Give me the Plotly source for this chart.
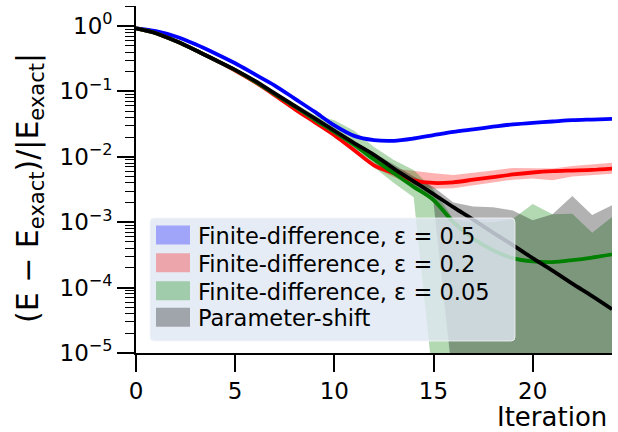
import numpy as np
import plotly.graph_objects as go

# ---------------- data (log10 of relative error) ----------------
iterations = list(range(25))

blue_line_log10 = [-0.035, -0.077, -0.16, -0.28, -0.42, -0.57, -0.74, -0.91, -1.11, -1.31,
                   -1.52, -1.68, -1.745, -1.755, -1.72, -1.67, -1.62, -1.58, -1.54, -1.505,
                   -1.48, -1.46, -1.44, -1.43, -1.42]
blue_upper_log10 = [-0.025, -0.067, -0.15, -0.27, -0.41, -0.56, -0.73, -0.90, -1.10, -1.30,
                    -1.51, -1.67, -1.735, -1.74, -1.705, -1.655, -1.605, -1.565, -1.525, -1.49,
                    -1.465, -1.445, -1.425, -1.415, -1.405]
blue_lower_log10 = [-0.045, -0.087, -0.17, -0.29, -0.43, -0.58, -0.75, -0.92, -1.12, -1.32,
                    -1.53, -1.69, -1.755, -1.77, -1.735, -1.685, -1.635, -1.595, -1.555, -1.52,
                    -1.495, -1.475, -1.455, -1.445, -1.435]

red_line_log10 = [-0.035, -0.11, -0.23, -0.37, -0.52, -0.68, -0.86, -1.06, -1.27, -1.47,
                  -1.67, -1.90, -2.13, -2.25, -2.36, -2.40, -2.39, -2.35, -2.31, -2.27,
                  -2.24, -2.22, -2.21, -2.20, -2.18]
red_upper_log10 = [-0.02, -0.095, -0.215, -0.355, -0.505, -0.665, -0.845, -1.045, -1.255, -1.455,
                   -1.65, -1.87, -2.09, -2.18, -2.22, -2.25, -2.28, -2.25, -2.21, -2.17,
                   -2.18, -2.18, -2.14, -2.11, -2.09]
red_lower_log10 = [-0.05, -0.125, -0.245, -0.385, -0.535, -0.695, -0.875, -1.075, -1.285, -1.485,
                   -1.69, -1.93, -2.17, -2.31, -2.43, -2.49, -2.48, -2.44, -2.39, -2.35,
                   -2.33, -2.36, -2.30, -2.28, -2.26]

green_line_log10 = [-0.035, -0.11, -0.23, -0.37, -0.52, -0.675, -0.85, -1.04, -1.23, -1.43,
                    -1.62, -1.82, -2.04, -2.25, -2.46, -2.66, -3.00, -3.25, -3.43, -3.55,
                    -3.60, -3.61, -3.58, -3.54, -3.49]
green_upper_log10 = [-0.02, -0.095, -0.215, -0.355, -0.505, -0.66, -0.83, -1.01, -1.18, -1.36,
                     -1.44, -1.60, -1.85, -2.05, -2.20, -2.50, -2.95, -3.00, -3.00, -2.95,
                     -2.72, -2.88, -2.87, -3.16, -2.92]
green_lower_log10 = [-0.05, -0.125, -0.245, -0.385, -0.535, -0.69, -0.87, -1.06, -1.26, -1.48,
                     -1.70, -1.92, -2.16, -2.40, -2.62, -5.5, -9.0, -9.0, -9.0, -9.0,
                     -9.0, -9.0, -9.0, -9.0, -9.0]

black_line_log10 = [-0.035, -0.11, -0.23, -0.37, -0.52, -0.67, -0.84, -1.03, -1.22, -1.41,
                    -1.60, -1.79, -1.97, -2.18, -2.375, -2.57, -2.77, -2.96, -3.16, -3.35,
                    -3.55, -3.74, -3.94, -4.13, -4.33]
black_upper_log10 = [-0.02, -0.095, -0.215, -0.355, -0.505, -0.655, -0.825, -1.015, -1.205, -1.395,
                     -1.58, -1.76, -1.94, -2.13, -2.30, -2.46, -2.70, -2.76, -2.77, -2.82,
                     -2.97, -2.88, -2.60, -2.89, -2.74]
black_lower_log10 = [-0.05, -0.125, -0.245, -0.385, -0.535, -0.685, -0.855, -1.045, -1.235, -1.425,
                     -1.62, -1.81, -2.01, -2.23, -2.44, -2.70, -5.5, -9.0, -9.0, -9.0,
                     -9.0, -9.0, -9.0, -9.0, -9.0]

series_names = ["Finite-difference, ε = 0.5", "Finite-difference, ε = 0.2",
                "Finite-difference, ε = 0.05", "Parameter-shift"]

x_tick_vals = [0, 5, 10, 15, 20]
y_tick_vals = [1e0, 1e-1, 1e-2, 1e-3, 1e-4, 1e-5]
y_tick_text = ["10<sup>0</sup>", "10<sup>−1</sup>", "10<sup>−2</sup>",
               "10<sup>−3</sup>", "10<sup>−4</sup>", "10<sup>−5</sup>"]

# ---------------- figure ----------------
FONT = "DejaVu Sans"
W, H = 618, 432
ML, MR, MT, MB = 136, 6, 6, 79
PW, PH = W - ML - MR, H - MT - MB

def px_x(p):  # pixel -> paper x
    return (p - ML) / PW

def px_y(p):  # pixel -> paper y
    return (H - MB - p) / PH

series = [
    (blue_line_log10, blue_upper_log10, blue_lower_log10, "#0000ff", "rgba(0,0,255,0.3)"),
    (red_line_log10, red_upper_log10, red_lower_log10, "#ff0000", "rgba(255,0,0,0.3)"),
    (green_line_log10, green_upper_log10, green_lower_log10, "#008000", "rgba(0,128,0,0.3)"),
    (black_line_log10, black_upper_log10, black_lower_log10, "#000000", "rgba(0,0,0,0.3)"),
]

fig = go.Figure()
x = np.array(iterations, dtype=float)
for (line, up, lo, col, fillcol), name in zip(series, series_names):
    up_v = 10 ** np.array(up)
    lo_v = 10 ** np.array(lo)
    fig.add_trace(go.Scatter(
        x=np.concatenate([x, x[::-1]]),
        y=np.concatenate([up_v, lo_v[::-1]]),
        fill="toself", fillcolor=fillcol, mode="lines",
        line=dict(width=0, color=fillcol), name=name, showlegend=False,
        hoverinfo="skip",
    ))

for (line, up, lo, col, fillcol), name in zip(series, series_names):
    fig.add_trace(go.Scatter(
        x=x, y=10 ** np.array(line), mode="lines",
        line=dict(color=col, width=3.8, shape="spline", smoothing=0.8),
        showlegend=False, name=name,
    ))

# ---- legend drawn as shapes + text (matplotlib-like patch legend) ----
shapes = []
annotations = []
lx0, lx1, ly0, ly1 = 150, 515, 218, 341
r = 4
X0, X1 = px_x(lx0), px_x(lx1)
Y0, Y1 = px_y(ly1), px_y(ly0)  # bottom, top in paper
rx, ry = r / PW, r / PH
path = (f"M {X0+rx},{Y0} L {X1-rx},{Y0} Q {X1},{Y0} {X1},{Y0+ry} "
        f"L {X1},{Y1-ry} Q {X1},{Y1} {X1-rx},{Y1} L {X0+rx},{Y1} "
        f"Q {X0},{Y1} {X0},{Y1-ry} L {X0},{Y0+ry} Q {X0},{Y0} {X0+rx},{Y0} Z")
shapes.append(dict(type="path", path=path, xref="paper", yref="paper", layer="above",
                   fillcolor="rgba(224,231,244,0.8)",
                   line=dict(color="rgba(245,245,245,0.8)", width=1)))
row_centers = [235, 262.7, 290.7, 317.3]
for (line, up, lo, col, fillcol), name, cy in zip(series, series_names, row_centers):
    shapes.append(dict(type="rect", xref="paper", yref="paper", layer="above",
                       x0=px_x(156), x1=px_x(190), y0=px_y(cy + 9.5), y1=px_y(cy - 9.5),
                       fillcolor=fillcol, line=dict(width=0)))
    annotations.append(dict(text=name, xref="paper", yref="paper", x=px_x(196), y=px_y(cy + 1),
                            xanchor="left", yanchor="middle", showarrow=False,
                            font=dict(family=FONT, size=22.5, color="black")))

annotations += [
    dict(text="(E − E<sub>exact</sub>)/|E<sub>exact</sub>|", textangle=-90,
         xref="paper", yref="paper", x=px_x(29), y=px_y(188), xanchor="center", yanchor="middle",
         showarrow=False, font=dict(family=FONT, size=30, color="black")),
    dict(text="Iteration", xref="paper", yref="paper", x=px_x(609), y=px_y(417),
         xanchor="right", yanchor="middle", showarrow=False,
         font=dict(family=FONT, size=26, color="black")),
]

axis_common = dict(
    showline=True, linecolor="black", linewidth=1.6, mirror=False,
    ticks="outside", ticklen=17, tickwidth=1.6, tickcolor="black",
    showgrid=False, zeroline=False,
    tickfont=dict(family=FONT, size=23, color="black"),
)

fig.update_layout(
    width=W, height=H,
    margin=dict(l=ML, r=MR, t=MT, b=MB),
    plot_bgcolor="white", paper_bgcolor="white",
    font=dict(family=FONT, color="black"),
    showlegend=False,
    xaxis=dict(range=[0, 24], tickvals=x_tick_vals, **axis_common),
    yaxis=dict(type="log", range=[-5, 0.306], tickvals=y_tick_vals, ticktext=y_tick_text,
               minor=dict(ticks="outside", ticklen=9, tickwidth=1.2, tickcolor="black", dtick="D1"),
               **axis_common),
    shapes=shapes,
    annotations=annotations,
)

fig.write_html("out.html")
